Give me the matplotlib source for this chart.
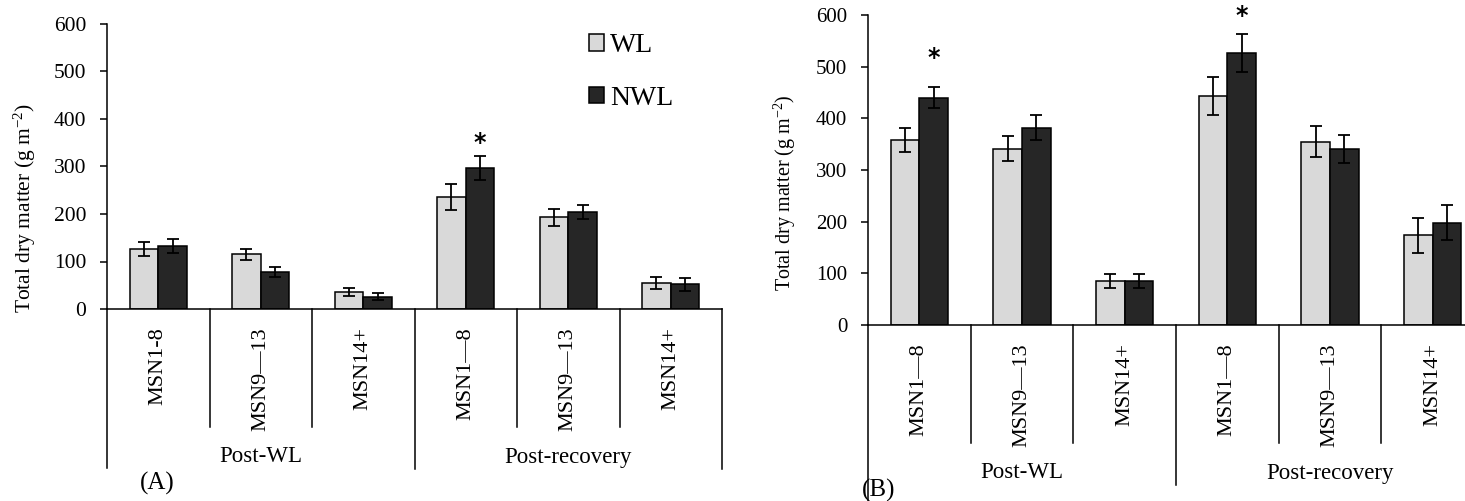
import numpy as np
import matplotlib
matplotlib.use("Agg")
import matplotlib.pyplot as plt
from matplotlib.lines import Line2D
from matplotlib.transforms import offset_copy

plt.rcParams['font.family'] = ['Liberation Serif', 'DejaVu Serif']
plt.rcParams['mathtext.fontset'] = 'custom'
plt.rcParams['mathtext.rm'] = 'Liberation Serif'
plt.rcParams['mathtext.it'] = 'Liberation Serif:italic'

# data
labels_a = ["MSN1-8", "MSN9\u201413", "MSN14+", "MSN1\u20148", "MSN9\u201413", "MSN14+"]
labels_b = ["MSN1\u20148", "MSN9\u201413", "MSN14+", "MSN1\u20148", "MSN9\u201413", "MSN14+"]
groups = ["Post-WL", "Post-recovery"]

a_wl = [126, 115, 36, 236, 193, 55]
a_wl_err = [15, 11, 8, 27, 18, 12]
a_nwl = [133, 78, 26, 297, 204, 52]
a_nwl_err = [15, 11, 8, 26, 15, 14]

b_wl = [358, 341, 85, 443, 355, 174]
b_wl_err = [24, 24, 14, 37, 30, 34]
b_nwl = [440, 382, 85, 526, 341, 198]
b_nwl_err = [20, 24, 14, 37, 27, 34]

# significance stars: (category index, y value)
stars_a = [(3, 350)]
stars_b = [(0, 516), (3, 598)]

W, H = 1465, 501
fig = plt.figure(figsize=(W / 100, H / 100), dpi=100)

PX = 0.72  # points per pixel at 100 dpi


def draw_panel(ax, labels, wl, wl_err, nwl, nwl_err, stars, tick_fs, left_ext):
    x = np.arange(len(labels)) + 0.5
    bw = 0.28
    b1 = ax.bar(x - bw / 2, wl, bw, color='#d9d9d9', edgecolor='black', linewidth=1.1, zorder=2)
    b2 = ax.bar(x + bw / 2, nwl, bw, color='#262626', edgecolor='black', linewidth=1.1, zorder=2)
    ax.errorbar(x - bw / 2, wl, yerr=wl_err, fmt='none', ecolor='black', elinewidth=1.3,
                capsize=4, capthick=1.3, zorder=3)
    ax.errorbar(x + bw / 2, nwl, yerr=nwl_err, fmt='none', ecolor='black', elinewidth=1.3,
                capsize=4, capthick=1.3, zorder=3)
    for i, yv in stars:
        ax.text(x[i] + bw / 2, yv, '*', ha='center', va='center', fontsize=17,
                fontweight='bold', family='DejaVu Sans')

    ax.set_xlim(0, len(labels))
    ax.set_ylim(0, 600)
    ax.set_yticks(np.arange(0, 601, 100))
    ax.tick_params(axis='y', direction='out', length=5, width=1.1, pad=10, labelsize=tick_fs)
    ax.set_xticks([])
    for s in ['top', 'right']:
        ax.spines[s].set_visible(False)
    for s in ['left', 'bottom']:
        ax.spines[s].set_linewidth(1.1)

    tr = ax.get_xaxis_transform()
    for xi, lab in zip(x, labels):
        ax.annotate(lab, xy=(xi, 0), xycoords=tr, xytext=(0, -18 * PX), textcoords='offset points',
                    rotation=90, ha='center', va='top', fontsize=16)
    for g, gx in zip(groups, [1.5, 4.5]):
        ax.annotate(g, xy=(gx, 0), xycoords=tr, xytext=(0, -148 * PX), textcoords='offset points',
                    ha='center', va='center', fontsize=16.5)

    # category / group divider lines hanging below the axis
    for xd in range(len(labels) + 1):
        if xd == 0:
            ext = left_ext
        elif xd in (3, 6):
            ext = 160
        else:
            ext = 118
        low = offset_copy(tr, fig=fig, x=0, y=-ext, units='dots')
        top = tr.transform((xd, 0))
        bot = low.transform((xd, 0))
        ax.add_line(Line2D([top[0], bot[0]], [top[1], bot[1]], color='black', lw=1.1,
                           transform=None, clip_on=False))
    return b1, b2


# panel A
ax_a = fig.add_axes([107 / W, 1 - 309 / H, 615 / W, 285 / H])
h1, h2 = draw_panel(ax_a, labels_a, a_wl, a_wl_err, a_nwl, a_nwl_err, stars_a, 15.5, 159)
ax_a.legend(handles=[h1, h2], labels=['WL', 'NWL'], loc='upper left',
            bbox_to_anchor=(589 / W, 1 - 33 / H), bbox_transform=fig.transFigure,
            frameon=False, fontsize=20, handlelength=0.55, handleheight=0.55,
            handletextpad=0.2, labelspacing=1.0, borderpad=0, borderaxespad=0)
fig.text(25 / W, 1 - 208 / H, r'Total dry matter (g m$^{-2}$)', rotation=90,
         ha='center', va='center', fontsize=15.5)
fig.text(140 / W, 1 - 483 / H, '(A)', ha='left', va='center', fontsize=18)

# panel B (its last category runs past the right edge of the picture)
ax_b = fig.add_axes([868 / W, 1 - 325 / H, 616 / W, 310 / H])
draw_panel(ax_b, labels_b, b_wl, b_wl_err, b_nwl, b_nwl_err, stars_b, 15, 190)
fig.text(785 / W, 1 - 193 / H, r'Total dry matter (g m$^{-2}$)', rotation=90,
         ha='center', va='center', fontsize=14.5)
fig.text(862 / W, 1 - 490 / H, '(B)', ha='left', va='center', fontsize=18)

fig.savefig('out.png', dpi=100)
